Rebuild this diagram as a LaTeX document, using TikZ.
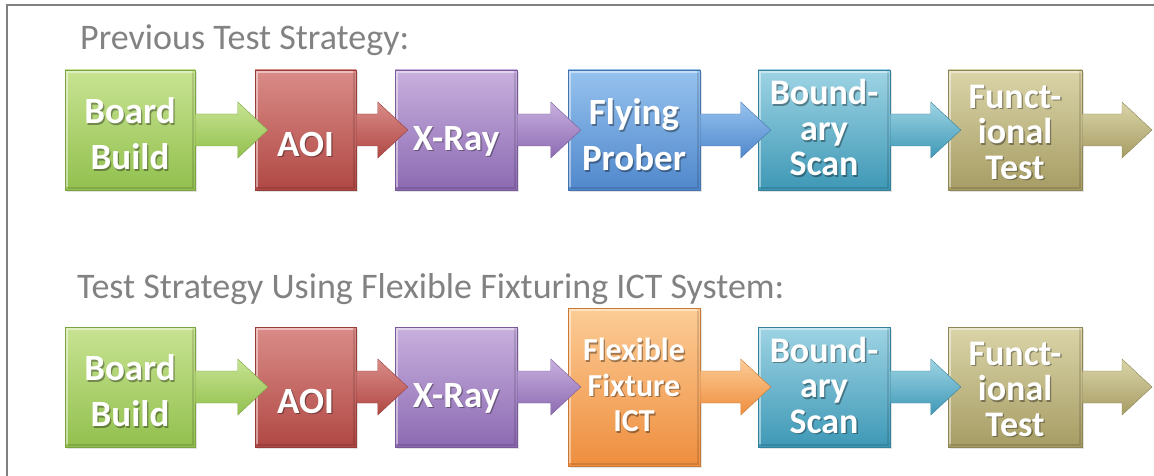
\documentclass[tikz,border=0pt]{standalone}
\usepackage{fontspec}
\newfontfamily\calib{Carlito}
\usetikzlibrary{calc,shadows}
\definecolor{frame}{RGB}{128,128,128}
\definecolor{titlegray}{RGB}{130,130,130}
\definecolor{grtop}{RGB}{200,227,146}
\definecolor{grbot}{RGB}{146,192,78}
\definecolor{rdtop}{RGB}{218,140,136}
\definecolor{rdbot}{RGB}{176,72,68}
\definecolor{putop}{RGB}{200,176,222}
\definecolor{pubot}{RGB}{140,106,178}
\definecolor{bltop}{RGB}{150,194,238}
\definecolor{blbot}{RGB}{80,136,204}
\definecolor{tltop}{RGB}{158,212,228}
\definecolor{tlbot}{RGB}{62,152,182}
\definecolor{tntop}{RGB}{218,212,168}
\definecolor{tnbot}{RGB}{166,156,100}
\definecolor{ortop}{RGB}{252,204,150}
\definecolor{orbot}{RGB}{238,142,62}
\newcommand\flowarrow[3]{%
  \path[top color=#3top, bottom color=#3bot, draw=#3bot!85!black, line width=0.4pt]
    ($(#1.east)+(0,-16)$) -- ($(#1.east -| #2)+(-17,-16)$) -- ++(0,-12)
    -- ($(#1.east -| #2)+(13,0)$) -- ($(#1.east -| #2)+(-17,28)$) -- ++(0,-12)
    -- ($(#1.east)+(0,16)$) -- cycle;}
\newcommand\stagetext[4]{%
  \node[txtshadow, #3] (#1-s) at ($(#1.center)+(1.3,#2+1.6)$) {#4};
  \node[txt, #3] (#1-t) at ($(#1.center)+(0,#2)$) {#4};}
\begin{document}
\begin{tikzpicture}[x=1pt,y=-1pt,
  stagebox/.style={rectangle, inner sep=0pt, minimum height=120pt,
    draw=#1bot!85!black, line width=0.5pt, top color=#1top, bottom color=#1bot,
    drop shadow={opacity=0.22, shadow xshift=1.5pt, shadow yshift=-2pt},
    path picture={
      \draw[white, opacity=0.45, line width=1.4pt]
        ([xshift=2pt,yshift=3pt]path picture bounding box.south west)
        -- ([xshift=2pt,yshift=-2pt]path picture bounding box.north west)
        -- ([xshift=-3pt,yshift=-2pt]path picture bounding box.north east);
      \draw[black, opacity=0.12, line width=1.4pt]
        ([xshift=-2pt,yshift=-3pt]path picture bounding box.north east)
        -- ([xshift=-2pt,yshift=2pt]path picture bounding box.south east)
        -- ([xshift=3pt,yshift=2pt]path picture bounding box.south west);}},
  txt/.style={text=white, align=center, inner sep=0pt},
  txtshadow/.style={text=black, text opacity=0.35, align=center, inner sep=0pt},
  wide/.style={font={\calib\bfseries\fontsize{37}{46}\selectfont}},
  tight/.style={font={\calib\bfseries\fontsize{36}{35.5}\selectfont}},
  small/.style={font={\calib\bfseries\fontsize{32}{35.5}\selectfont}},
  title/.style={text=titlegray, font={\calib\fontsize{36}{40}\selectfont}, inner sep=0pt, anchor=base west}]
\useasboundingbox (0,0) rectangle (1154,476);
\draw[frame, line width=2pt] (7,476) coordinate (fl) -- (7,5) coordinate (fc) -- (1154,5) coordinate (fr);

\node[title] (t1) at (80,50) {Previous Test Strategy:};
\node[title] (t2) at (77,298) {Test Strategy Using Flexible Fixturing ICT System:};

% row 1
\node[stagebox=gr, minimum width=130pt] (bb1) at (130,130) {};
\node[stagebox=rd, minimum width=101pt] (ao1) at (305.5,130) {};
\node[stagebox=pu, minimum width=122pt] (xr1) at (456,130) {};
\node[stagebox=bl, minimum width=132pt] (fp1) at (634,130) {};
\node[stagebox=tl, minimum width=132pt] (bs1) at (824,130) {};
\node[stagebox=tn, minimum width=134pt] (ft1) at (1015,130) {};
\coordinate (end1) at (1139,130);
% row 2
\node[stagebox=gr, minimum width=130pt] (bb2) at (130,387) {};
\node[stagebox=rd, minimum width=101pt] (ao2) at (305.5,387) {};
\node[stagebox=pu, minimum width=122pt] (xr2) at (456,387) {};
\node[stagebox=or, minimum width=132pt, minimum height=158pt] (fx2) at (634,387) {};
\node[stagebox=tl, minimum width=132pt] (bs2) at (824,387) {};
\node[stagebox=tn, minimum width=134pt] (ft2) at (1015,387) {};
\coordinate (end2) at (1139,387);

\flowarrow{bb1}{ao1.west}{gr}
\flowarrow{ao1}{xr1.west}{rd}
\flowarrow{xr1}{fp1.west}{pu}
\flowarrow{fp1}{bs1.west}{bl}
\flowarrow{bs1}{ft1.west}{tl}
\flowarrow{ft1}{end1}{tn}
\flowarrow{bb2}{ao2.west}{gr}
\flowarrow{ao2}{xr2.west}{rd}
\flowarrow{xr2}{fx2.west}{pu}
\flowarrow{fx2}{bs2.west}{or}
\flowarrow{bs2}{ft2.west}{tl}
\flowarrow{ft2}{end2}{tn}

\stagetext{bb1}{4}{wide}{Board\\Build}
\stagetext{ao1}{14}{wide}{AOI}
\stagetext{xr1}{11}{wide}{X-Ray}
\stagetext{fp1}{5}{wide}{Flying\\Prober}
\stagetext{bs1}{-2}{tight}{Bound-\\ary\\Scan}
\stagetext{ft1}{2}{tight}{Funct-\\ional\\Test}
\stagetext{bb2}{4}{wide}{Board\\Build}
\stagetext{ao2}{14}{wide}{AOI}
\stagetext{xr2}{11}{wide}{X-Ray}
\stagetext{fx2}{-2}{small}{Flexible\\Fixture\\ICT}
\stagetext{bs2}{-2}{tight}{Bound-\\ary\\Scan}
\stagetext{ft2}{2}{tight}{Funct-\\ional\\Test}
\end{tikzpicture}
\end{document}
